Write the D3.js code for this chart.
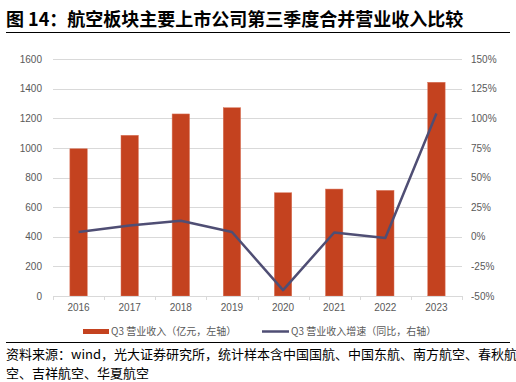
<!DOCTYPE html>
<html><head><meta charset="utf-8">
<script src="https://cdn.jsdelivr.net/npm/d3@7/dist/d3.min.js"></script>
<style>
body{margin:0;background:#fff;}
svg{display:block;}
</style></head>
<body><svg id="c" width="516" height="382"></svg>
<script>
const categories = ["2016","2017","2018","2019","2020","2021","2022","2023"];
const revenue = [994, 1085, 1229, 1271, 697, 722, 713, 1443];
const growth = [4.0, 9.5, 13.5, 4.0, -45.0, 3.6, -1.0, 104.0];
const leftTicks = [0,200,400,600,800,1000,1200,1400,1600];
const rightTicks = [-50,-25,0,25,50,75,100,125,150];
const titleText = "图 14：航空板块主要上市公司第三季度合并营业收入比较";
const legendLabels = ["Q3 营业收入（亿元，左轴）","Q3 营业收入增速（同比，右轴）"];
const sourceLines = ["资料来源：wind，光大证券研究所，统计样本含中国国航、中国东航、南方航空、春秋航","空、吉祥航空、华夏航空"];

const svg = d3.select("#c");
const cjk = "'Noto Sans CJK SC','Noto Sans',sans-serif";
const latin = "'Liberation Sans',Arial,sans-serif";
const barColor = "#C4421F", lineColor = "#4F4E74", textGray = "#595959", gridColor = "#D9D9D9";

const L = 53, R = 462, T = 59, B = 296;
const x = d3.scaleBand().domain(categories).range([L, R]).paddingInner(0.66).paddingOuter(0.33);
const xb = d3.scaleBand().domain(categories).range([L, R]);
const yL = d3.scaleLinear().domain([0,1600]).range([B, T]);
const yR = d3.scaleLinear().domain([-50,150]).range([B, T]);

// title
svg.append("text").attr("x",6).attr("y",26).attr("font-family",cjk).attr("font-weight","bold")
  .attr("font-size",18).attr("fill","#000").text(titleText);
svg.append("line").attr("x1",6).attr("x2",510).attr("y1",32.5).attr("y2",32.5).attr("stroke","#000").attr("stroke-width",1);

// grid
svg.append("g").selectAll("line").data(leftTicks.slice(1)).join("line")
  .attr("x1",L).attr("x2",R).attr("y1",d=>Math.round(yL(d))+0.5).attr("y2",d=>Math.round(yL(d))+0.5)
  .attr("stroke",gridColor).attr("stroke-width",1);

// left axis labels
const ga = d3.axisLeft(yL).tickValues(leftTicks).tickSize(0).tickPadding(11).tickFormat(d=>String(d));
const gL = svg.append("g").attr("transform",`translate(${L},0)`).call(ga);
gL.select(".domain").remove();
gL.selectAll("text").attr("font-family",latin).attr("font-size",10).attr("fill",textGray);

const gRa = d3.axisRight(yR).tickValues(rightTicks).tickSize(0).tickPadding(9).tickFormat(d=>d+"%");
const gR = svg.append("g").attr("transform",`translate(${R},0)`).call(gRa);
gR.select(".domain").remove();
gR.selectAll("text").attr("font-family",latin).attr("font-size",10).attr("fill",textGray);

// bars
svg.append("g").selectAll("rect").data(categories).join("rect")
  .attr("x",d=>x(d)).attr("width",x.bandwidth())
  .attr("y",(d,i)=>yL(revenue[i])).attr("height",(d,i)=>B-yL(revenue[i]))
  .attr("fill",barColor).attr("stroke","#D9765C").attr("stroke-width",0.5);

// x axis
svg.append("line").attr("x1",L).attr("x2",R).attr("y1",B+0.5).attr("y2",B+0.5).attr("stroke",gridColor).attr("stroke-width",1);
const bounds = categories.map(c=>xb(c)).concat([R]);
svg.append("g").selectAll("line").data(bounds).join("line")
  .attr("x1",d=>Math.round(d)+0.5).attr("x2",d=>Math.round(d)+0.5).attr("y1",B).attr("y2",B+4)
  .attr("stroke",gridColor);
svg.append("g").selectAll("text").data(categories).join("text")
  .attr("x",d=>xb(d)+xb.bandwidth()/2).attr("y",B+15).attr("text-anchor","middle")
  .attr("font-family",latin).attr("font-size",10).attr("fill",textGray).text(d=>d);

// line
const line = d3.line().x((d,i)=>xb(categories[i])+xb.bandwidth()/2).y(d=>yR(d));
svg.append("path").datum(growth).attr("d",line).attr("fill","none")
  .attr("stroke",lineColor).attr("stroke-width",2.5).attr("stroke-linejoin","round");

// legend
svg.append("rect").attr("x",83).attr("y",329).attr("width",26).attr("height",5).attr("fill",barColor);
svg.append("text").attr("x",111).attr("y",335).attr("font-family",cjk).attr("font-size",10).attr("fill",textGray).text(legendLabels[0]);
svg.append("line").attr("x1",262).attr("x2",289).attr("y1",331.5).attr("y2",331.5).attr("stroke",lineColor).attr("stroke-width",2.5);
svg.append("text").attr("x",291).attr("y",335).attr("font-family",cjk).attr("font-size",10).attr("fill",textGray).text(legendLabels[1]);

// footer
svg.append("line").attr("x1",6).attr("x2",510).attr("y1",342.5).attr("y2",342.5).attr("stroke","#000").attr("stroke-width",1);
svg.append("g").selectAll("text").data(sourceLines).join("text")
  .attr("x",6).attr("y",(d,i)=>359+i*19).attr("font-family",cjk).attr("font-size",13).attr("fill","#000").text(d=>d);
</script></body></html>
